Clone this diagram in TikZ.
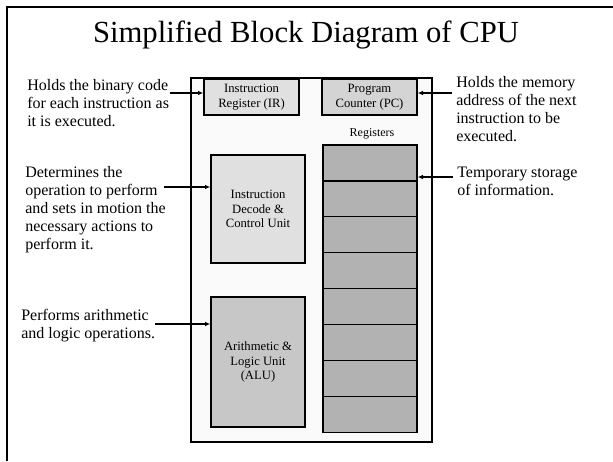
\documentclass[tikz,border=0pt]{standalone}
\usepackage{fontspec}
\setmainfont{Liberation Serif}
\usetikzlibrary{arrows.meta}
\begin{document}
\begin{tikzpicture}[x=0.75pt,y=-0.75pt,
        arrow/.style = {thick,-{Latex[length=4pt,width=3.5pt]}},
        unit/.style = {draw,line width=1pt,inner sep=1pt,align=center,
                       font=\fontsize{9.5}{11}\selectfont},
        size/.style 2 args = {minimum width=#1*0.75pt,minimum height=#2*0.75pt},
        note/.style = {anchor=west,align=left,inner sep=0pt,
                       font=\fontsize{12}{13.5}\selectfont}]
                \useasboundingbox (0,0) rectangle (613,461);
                \draw[line width=1.5pt] (7,461) -- (7,7) -- (613,7);

                \node at (306,35) {\fontsize{23}{26}\selectfont Simplified Block Diagram of CPU};

                \node[unit,fill=black!2,size={241}{364}]
                    (cpu) at (311.5,260) {};
                \node[unit,fill=black!12,size={95}{36}]
                    (ir) at (251.5,97) {Instruction\\Register (IR)};
                \node[unit,fill=black!17,size={95}{36}]
                    (pc) at (369.5,97) {Program\\Counter (PC)};
                \node[unit,fill=black!12,size={94}{108}]
                    (id) at (258,209) {Instruction\\Decode \&\\Control Unit};
                \node[unit,fill=black!22,size={94}{130}]
                    (alu) at (258,362) {Arithmetic \&\\Logic Unit\\(ALU)};
                \foreach \i in {0,...,7}
                    \node[unit,fill=black!30,size={94}{36}]
                        (r\i) at (370,163+\i*35.9) {};
                \node[font=\fontsize{9}{10}\selectfont] (reglabel) at (372,134) {Registers};

                \node[note] (irnote) at (27,103)
                    {Holds the binary code\\for each instruction as\\it is executed.};
                \node[note] (idnote) at (25,210)
                    {Determines the\\operation to perform\\and sets in motion the\\necessary actions to\\perform it.};
                \node[note] (alunote) at (21,326)
                    {Performs arithmetic\\and logic operations.};
                \node[note] (pcnote) at (456,109)
                    {Holds the memory\\address of the next\\instruction to be\\executed.};
                \node[note] (regnote) at (457,181)
                    {Temporary storage\\of information.};

                \coordinate (irtail) at (170,93);
                \coordinate (idtail) at (164,187);
                \coordinate (alutail) at (155,324);
                \coordinate (pctail) at (452,93);
                \coordinate (regtail) at (453,177);
                \draw[arrow] (irtail) -- (irtail -| ir.west);
                \draw[arrow] (idtail) -- (idtail -| id.west);
                \draw[arrow] (alutail) -- (alutail -| alu.west);
                \draw[arrow] (pctail) -- (pctail -| pc.east);
                \draw[arrow] (regtail) -- (regtail -| r0.east);
\end{tikzpicture}
\end{document}
